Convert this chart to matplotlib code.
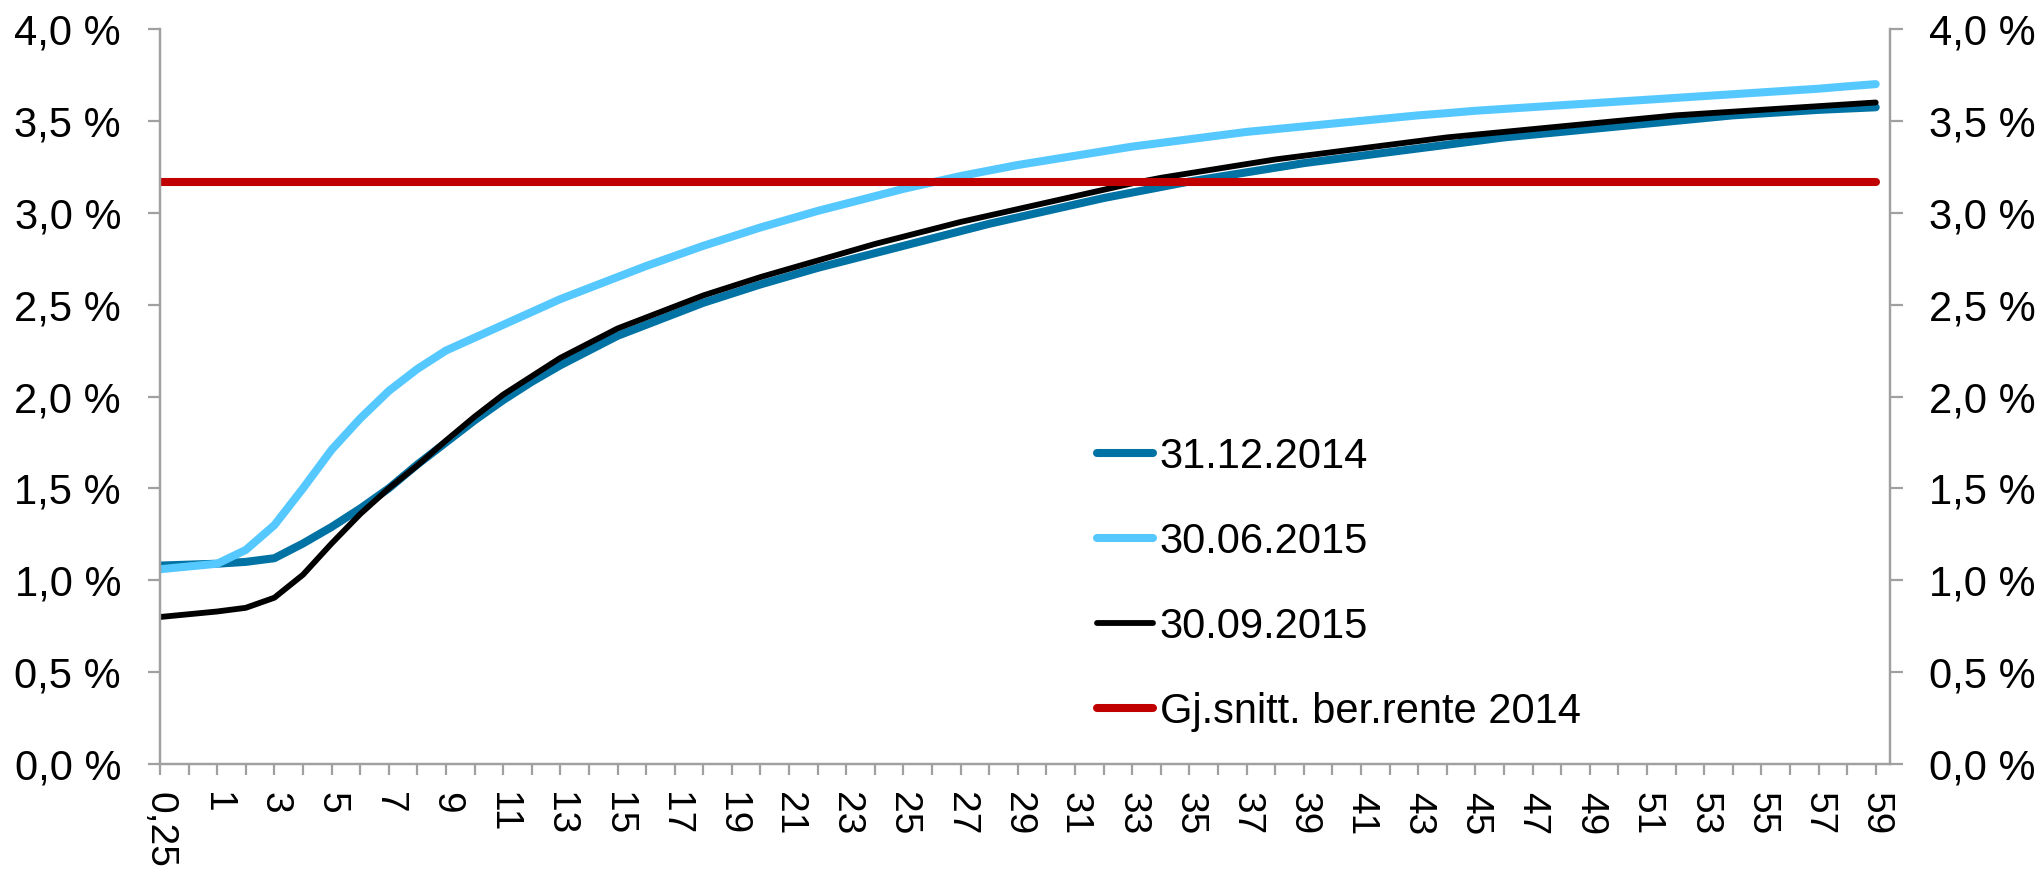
import matplotlib
matplotlib.use("Agg")
import matplotlib.pyplot as plt
from matplotlib.ticker import FuncFormatter

plt.rcParams['font.family'] = ['Liberation Sans', 'DejaVu Sans']

# løpetid (år)
categories = ["0,25", "0,5"] + [str(k) for k in range(1, 60)]

# rentekurver i prosent
rate_20141231 = [1.08, 1.085, 1.09, 1.10, 1.12, 1.20, 1.29, 1.39, 1.50, 1.63,
                 1.75, 1.87, 1.98, 2.08, 2.17, 2.25, 2.33, 2.39, 2.45, 2.51,
                 2.56, 2.61, 2.655, 2.70, 2.74, 2.78, 2.82, 2.86, 2.90, 2.94,
                 2.975, 3.01, 3.045, 3.08, 3.11, 3.14, 3.17, 3.195, 3.22, 3.245,
                 3.27, 3.29, 3.31, 3.33, 3.35, 3.37, 3.39, 3.41, 3.425, 3.44,
                 3.455, 3.47, 3.485, 3.50, 3.515, 3.53, 3.54, 3.55, 3.56, 3.567,
                 3.574]
rate_20150630 = [1.06, 1.075, 1.09, 1.165, 1.30, 1.50, 1.71, 1.88, 2.03, 2.15,
                 2.25, 2.32, 2.39, 2.46, 2.53, 2.59, 2.65, 2.71, 2.765, 2.82,
                 2.87, 2.92, 2.965, 3.01, 3.05, 3.09, 3.13, 3.165, 3.20, 3.23,
                 3.26, 3.285, 3.31, 3.335, 3.36, 3.38, 3.40, 3.42, 3.44, 3.455,
                 3.47, 3.485, 3.50, 3.515, 3.53, 3.542, 3.555, 3.565, 3.575, 3.585,
                 3.595, 3.605, 3.615, 3.625, 3.635, 3.645, 3.655, 3.665, 3.675, 3.688,
                 3.70]
rate_20150930 = [0.80, 0.815, 0.83, 0.85, 0.905, 1.03, 1.20, 1.36, 1.50, 1.625,
                 1.76, 1.89, 2.01, 2.11, 2.21, 2.29, 2.37, 2.43, 2.49, 2.55,
                 2.60, 2.65, 2.695, 2.74, 2.785, 2.83, 2.87, 2.91, 2.95, 2.985,
                 3.02, 3.055, 3.09, 3.125, 3.16, 3.19, 3.215, 3.24, 3.265, 3.29,
                 3.31, 3.33, 3.35, 3.37, 3.39, 3.41, 3.425, 3.44, 3.455, 3.47,
                 3.485, 3.50, 3.515, 3.53, 3.54, 3.55, 3.56, 3.57, 3.58, 3.59,
                 3.60]
avg_rate_2014 = 3.17

series_names = ["31.12.2014", "30.06.2015", "30.09.2015", "Gj.snitt. ber.rente 2014"]
colors = ["#0072A3", "#55C8FF", "#000000", "#C00000"]

x = list(range(len(categories)))

fig = plt.figure(figsize=(20.41, 8.74), dpi=100)
ax = fig.add_axes([160 / 2041, 1 - 764 / 874, (1890 - 160) / 2041, (764 - 29) / 874])

ax.plot(x, rate_20141231, color=colors[0], lw=5.8, solid_capstyle='round', label=series_names[0])
ax.plot(x, rate_20150630, color=colors[1], lw=5.8, solid_capstyle='round', label=series_names[1])
ax.plot(x, rate_20150930, color=colors[2], lw=4.2, solid_capstyle='round', label=series_names[2])
ax.plot(x, [avg_rate_2014] * len(x), color=colors[3], lw=5.8, solid_capstyle='round',
        label=series_names[3])

ax.set_xlim(0, len(categories) - 0.5)
ax.set_ylim(0, 4.0)
yticks = [i * 0.5 for i in range(9)]
ax.set_yticks(yticks)
pct = FuncFormatter(lambda v, p: ("%.1f %%" % v).replace(".", ","))
ax.yaxis.set_major_formatter(pct)

ax.set_xticks(x)
ax.set_xticklabels([c if i % 2 == 0 else "" for i, c in enumerate(categories)],
                   rotation=270, fontsize=28)

ax2 = ax.twinx()
ax2.set_ylim(0, 4.0)
ax2.set_yticks(yticks)
ax2.yaxis.set_major_formatter(pct)

spine_col = "#A0A0A0"
for a in (ax, ax2):
    for side in ("left", "right", "bottom"):
        a.spines[side].set_color(spine_col)
        a.spines[side].set_linewidth(1.6)
    a.spines["top"].set_visible(False)
    a.tick_params(axis="y", direction="out", length=9, width=1.6, color=spine_col,
                  labelsize=30, pad=19)
ax.tick_params(axis="x", direction="out", length=8, width=1.6, color=spine_col, pad=12)
ax.tick_params(axis="x", which="both", labelsize=28)

leg = ax.legend(loc="upper left", bbox_to_anchor=(1097 / 2041, 1 - 437 / 874),
                bbox_transform=fig.transFigure, frameon=False, fontsize=30,
                handlelength=1.35, handletextpad=0.15, labelspacing=1.08,
                borderpad=0, borderaxespad=0)

fig.savefig("out.png", dpi=100)
